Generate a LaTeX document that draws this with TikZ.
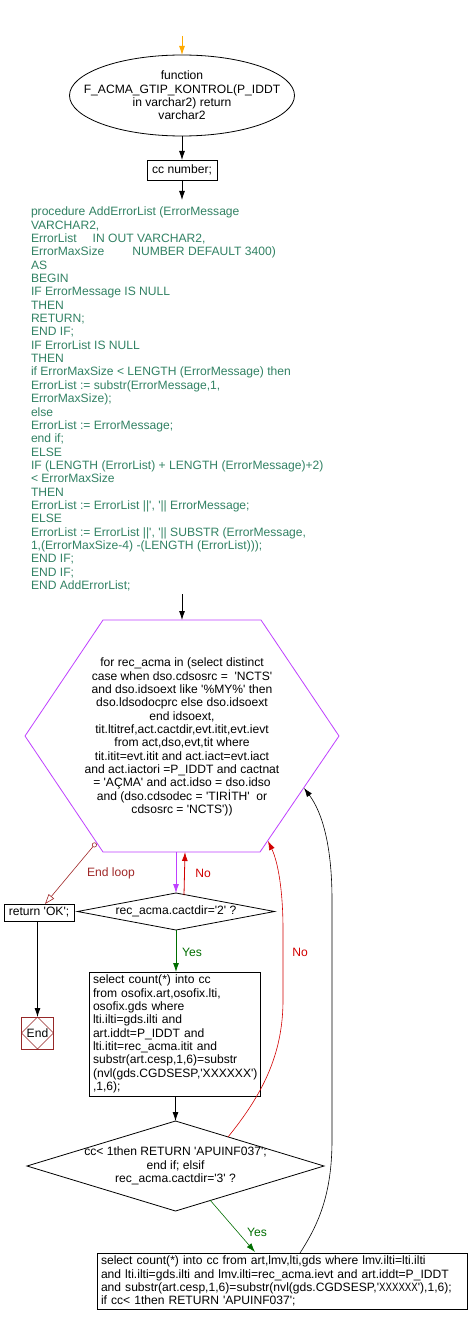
\documentclass[tikz,border=0pt]{standalone}
\usepackage{fontspec}
\setmainfont{Liberation Sans}[Ligatures=TeXOff]
\usetikzlibrary{arrows.meta,shapes.geometric,calc}
\definecolor{codegreen}{RGB}{50,130,100}
\definecolor{hexpurple}{RGB}{191,64,255}
\definecolor{arrorange}{RGB}{255,170,0}
\definecolor{noRed}{RGB}{210,0,0}
\definecolor{loopRed}{RGB}{160,40,40}
\definecolor{yesGreen}{RGB}{0,110,0}
\definecolor{endRed}{RGB}{150,40,40}
\newcommand\fs{\fontsize{12.1}{13.35}\selectfont}
\tikzset{
  base/.style={font=\fs, inner sep=0pt, outer sep=0pt},
  boxnode/.style={base, draw, line width=0.8pt},
  arr/.style={-{Latex[length=9pt,width=6pt]}, line width=0.8pt},
  lbl/.style={base},
}
\begin{document}
\begin{tikzpicture}[x=1pt,y=-1pt]
\useasboundingbox[fill=white] (0,0) rectangle (470,1324);

% start
\coordinate (start) at (182,36);
\node[ellipse, draw, line width=0.8pt, minimum width=225pt, minimum height=81pt, inner sep=0pt, outer sep=0pt,
  label={[base, align=center]center:function\\F\_ACMA\_GTIP\_KONTROL(P\_IDDT\\in varchar2) return\\varchar2}] (fn) at (182,95.5) {};
\node[boxnode, minimum width=70pt, minimum height=20pt] (cc) at (182,170) {cc number;};

% procedure text
\node[base, text=codegreen, align=left, anchor=north west] (proc) at (31,207) {%
procedure AddErrorList (ErrorMessage\\
VARCHAR2,\\
ErrorList\hspace{16pt}IN OUT VARCHAR2,\\
ErrorMaxSize\hspace{28pt}NUMBER DEFAULT 3400)\\
AS\\
BEGIN\\
IF ErrorMessage IS NULL\\
THEN\\
RETURN;\\
END IF;\\
IF ErrorList IS NULL\\
THEN\\
if ErrorMaxSize < LENGTH (ErrorMessage) then\\
ErrorList := substr(ErrorMessage,1,\\
ErrorMaxSize);\\
else\\
ErrorList := ErrorMessage;\\
end if;\\
ELSE\\
IF (LENGTH (ErrorList) + LENGTH (ErrorMessage)+2)\\
< ErrorMaxSize\\
THEN\\
ErrorList := ErrorList ||', '|| ErrorMessage;\\
ELSE\\
ErrorList := ErrorList ||', '|| SUBSTR (ErrorMessage,\\
1,(ErrorMaxSize-4) -(LENGTH (ErrorList)));\\
END IF;\\
END IF;\\
END AddErrorList;};

% hexagon loop
\coordinate (hT) at (182,620);
\draw[hexpurple, line width=0.8pt] (103,620) -- (261,620) -- (339,736) -- (260,852) -- (103,852) -- (25,736) -- cycle;
\node[base, align=center] (loop) at (182,737) {%
for rec\_acma in (select distinct\\
case when dso.cdsosrc =\ \ 'NCTS'\\
and dso.idsoext like '\%MY\%' then\\
dso.ldsodocprc else dso.idsoext\\
end idsoext,\\
tit.ltitref,act.cactdir,evt.itit,evt.ievt\\
from act,dso,evt,tit where\\
tit.itit=evt.itit and act.iact=evt.iact\\
and act.iactori =P\_IDDT and cactnat\\
= 'AÇMA' and act.idso = dso.idso\\
and (dso.cdsodec = 'TIRİTH'\ \ or\\
cdsosrc = 'NCTS'))};
\coordinate (hB) at (176,852);
\coordinate (hNo) at (185,852);
\coordinate (hEnd) at (96,843);
\coordinate (hR1) at (268,841);
\coordinate (hR2) at (304,788);

% decision 1
\node[diamond, draw, line width=0.8pt, minimum width=197pt, minimum height=37pt, inner sep=0pt, outer sep=0pt,
  label={[base]center:rec\_acma.cactdir='2' ?}] (d1) at (176,911.5) {};

% return OK and End
\node[boxnode, minimum width=70pt, minimum height=17pt] (ret) at (39,912.5) {return 'OK';};
\node[base, draw=endRed, line width=0.8pt, minimum size=32pt] (endn) at (37.5,1033) {End};
\draw[endRed, line width=0.5pt] (endn.north) -- (endn.east) -- (endn.south) -- (endn.west) -- cycle;

% box 2
\node[boxnode, align=left, text width=163pt, inner xsep=4pt, inner ysep=3pt, anchor=north west] (b2) at (89,972) {%
select count(*) into cc\\
from osofix.art,osofix.lti,\\
osofix.gds where\\
lti.ilti=gds.ilti and\\
art.iddt=P\_IDDT and\\
lti.itit=rec\_acma.itit and\\
substr(art.cesp,1,6)=substr\\
(nvl(gds.CGDSESP,'XXXXXX')\\
,1,6);};

% decision 2
\node[diamond, draw, line width=0.8pt, minimum width=297pt, minimum height=90pt, inner sep=0pt, outer sep=0pt,
  label={[base, align=center]center:cc< 1then RETURN 'APUINF037';\\end if; elsif\\rec\_acma.cactdir='3' ?}] (d2) at (175.5,1166) {};

% box 3
\node[boxnode, align=left, text width=362pt, inner xsep=4pt, inner ysep=3pt, anchor=north west] (b3) at (97,1253) {%
select count(*) into cc from art,lmv,lti,gds where lmv.ilti=lti.ilti\\
and lti.ilti=gds.ilti and lmv.ilti=rec\_acma.ievt and art.iddt=P\_IDDT\\
and substr(art.cesp,1,6)=substr(nvl(gds.CGDSESP,'{\addfontfeature{FakeStretch=0.8}XXXXXX}'),1,6);\\
if cc< 1then RETURN 'APUINF037';};

% connectors
\draw[arr, draw=arrorange, -{Latex[length=9pt,width=6pt,fill=arrorange]}] (start) -- (fn);
\draw[arr] (fn) -- (cc);
\draw[arr] (cc.south) -- (182,200);
\draw[arr] (182,594) -- (hT);
\draw[arr, draw=hexpurple] (hB) -- (hB |- d1.north);
\draw[arr, draw=noRed] ($(d1.north)+(8,2)$) -- (hNo);
\node[lbl, text=noRed] (no1) at (203,873) {No};
\draw[loopRed, line width=0.6pt, {Circle[open,length=5pt]}-{Triangle[open,length=10pt,width=7pt]}] (hEnd) -- ($(ret.north)+(6,0)$);
\node[lbl, text=loopRed] (endloop) at (111,873) {End loop};
\draw[arr] (ret.south -| endn) -- (endn);
\draw[arr, draw=yesGreen] (d1.south) -- (d1.south |- b2.north);
\node[lbl, text=yesGreen] (yes1) at (192,952) {Yes};
\draw[arr] (b2.south -| d2) -- (d2.north);
\draw[noRed, line width=0.6pt, -{Latex[length=9pt,width=6pt]}] (228,1137) .. controls (262,1095) and (283,1055) .. (283,1000) -- (283,930) .. controls (283,890) and (278,862) .. (hR1);
\node[lbl, text=noRed] (no2) at (300,952) {No};
\draw[line width=0.6pt, -{Latex[length=9pt,width=6pt]}] (300,1253) .. controls (318,1225) and (332,1195) .. (332,1140) -- (332,900) .. controls (332,845) and (322,812) .. (hR2);
\draw[yesGreen, line width=0.6pt, -{Latex[length=9pt,width=6pt]}] (210,1200) -- (255,1252);
\node[lbl, text=yesGreen] (yes2) at (257,1232) {Yes};
\end{tikzpicture}
\end{document}
